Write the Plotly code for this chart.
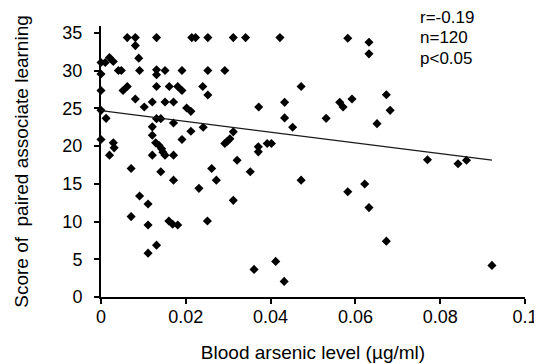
import plotly.graph_objects as go

# Blood arsenic level (µg/ml) and score of paired associate learning
arsenic = [0.0, 0.0, 0.0, 0.0, 0.0, 0.0010, 0.0012, 0.0020, 0.0029, 0.0020,
           0.0029, 0.0031, 0.0041, 0.0048, 0.0052, 0.0062, 0.0062, 0.0071, 0.0071, 0.0081,
           0.0081, 0.0081, 0.0089, 0.0091, 0.0091, 0.0102, 0.0111, 0.0111, 0.0111, 0.0121,
           0.0121, 0.0121, 0.0121, 0.0131, 0.0131, 0.0131, 0.0131, 0.0131, 0.0141, 0.0129,
           0.0137, 0.0143, 0.0146, 0.0131, 0.0141, 0.0151, 0.0151, 0.0151, 0.0160, 0.0161,
           0.0169, 0.0171, 0.0171, 0.0171, 0.0171, 0.0181, 0.0181, 0.0191, 0.0191, 0.0191,
           0.0202, 0.0212, 0.0212, 0.0214, 0.0223, 0.0231, 0.0240, 0.0241, 0.0251, 0.0252,
           0.0252, 0.0252, 0.0261, 0.0272, 0.0292, 0.0292, 0.0298, 0.0304, 0.0312, 0.0312,
           0.0312, 0.0321, 0.0341, 0.0352, 0.0361, 0.0372, 0.0371, 0.0371, 0.0392, 0.0402,
           0.0412, 0.0422, 0.0433, 0.0433, 0.0432, 0.0452, 0.0472, 0.0472, 0.0531, 0.0563,
           0.0571, 0.0582, 0.0582, 0.0592, 0.0622, 0.0632, 0.0632, 0.0632, 0.0651, 0.0673,
           0.0673, 0.0682, 0.0770, 0.0842, 0.0862, 0.0922]
score = [31.08, 29.55, 27.38, 24.74, 20.87, 31.08, 23.68, 31.74, 31.21, 18.80,
         20.43, 19.77, 30.02, 30.02, 27.38, 27.91, 34.38, 17.04, 10.66, 34.38,
         33.32, 26.25, 31.66, 30.02, 13.38, 25.19, 12.32, 9.55, 5.81, 25.85,
         22.55, 21.44, 18.80, 34.38, 30.12, 29.45, 27.91, 23.64, 23.64, 20.43,
         20.08, 19.64, 19.19, 6.87, 16.60, 30.02, 25.85, 18.80, 10.08, 27.91,
         9.64, 25.85, 23.07, 18.80, 15.49, 27.91, 9.55, 30.02, 27.38, 20.87,
         25.06, 24.61, 21.97, 34.38, 34.38, 14.40, 27.91, 22.49, 10.08, 34.38,
         30.02, 26.77, 17.04, 15.49, 30.02, 20.34, 20.64, 20.96, 34.38, 21.89,
         12.81, 18.13, 34.38, 16.60, 3.66, 25.19, 19.90, 19.24, 20.34, 20.34,
         4.72, 34.38, 25.80, 23.74, 2.07, 22.49, 27.91, 15.49, 23.68, 25.80,
         25.19, 34.30, 13.96, 26.25, 14.97, 33.77, 32.23, 11.85, 22.98, 26.81,
         7.40, 24.74, 18.19, 17.66, 18.13, 4.19]

fit_x = [0.0, 0.0922]
fit_y = [24.70, 18.13]

x_ticks = [0, 0.02, 0.04, 0.06, 0.08, 0.1]
x_tick_text = ["0", "0.02", "0.04", "0.06", "0.08", "0.1"]
y_ticks = [0, 5, 10, 15, 20, 25, 30, 35]
stats_lines = ["r=-0.19", "n=120", "p&lt;0.05"]

L, R, T, B = 91, 14, 18, 73
plot_h = 364 - T - B
y_top = 35.92

fig = go.Figure()
fig.add_trace(go.Scatter(
    x=arsenic, y=score, mode="markers", cliponaxis=False,
    marker=dict(symbol="diamond", size=7, color="black", line=dict(width=0)),
    showlegend=False))
fig.add_trace(go.Scatter(
    x=fit_x, y=fit_y, mode="lines", cliponaxis=False,
    line=dict(color="#1a1a1a", width=1.2), showlegend=False))

fig.update_layout(
    width=542, height=364,
    margin=dict(l=L, r=R, t=T, b=B),
    paper_bgcolor="white", plot_bgcolor="white",
    font=dict(family="Liberation Sans, Arial, sans-serif", size=18, color="black"),
)
fig.update_xaxes(
    range=[0, 0.1], tickvals=x_ticks, ticktext=x_tick_text,
    showline=True, linecolor="black", linewidth=2,
    ticks="outside", ticklen=5, tickwidth=1.5, tickcolor="black",
    showgrid=False, zeroline=False,
    tickfont=dict(size=18), ticklabelstandoff=-3,
    title=dict(text="Blood arsenic level (µg/ml)", font=dict(size=19), standoff=20),
)
fig.update_yaxes(
    range=[0, y_top], tickvals=y_ticks,
    showline=True, linecolor="black", linewidth=2,
    ticks="outside", ticklen=5, tickwidth=1.5, tickcolor="black",
    showgrid=False, zeroline=False,
    tickfont=dict(size=18), ticklabelstandoff=8,
    title=dict(text="Score of  paired associate learning", font=dict(size=19), standoff=29),
)
for i, line_text in enumerate(stats_lines):
    y_px = 9.4 + i * 20.5
    fig.add_annotation(
        xref="paper", yref="paper", x=(418 - L) / (542 - L - R), y=(T + plot_h - y_px) / plot_h,
        xanchor="left", yanchor="middle", align="left", showarrow=False,
        text=line_text, font=dict(size=17),
    )

fig.write_html("out.html")
